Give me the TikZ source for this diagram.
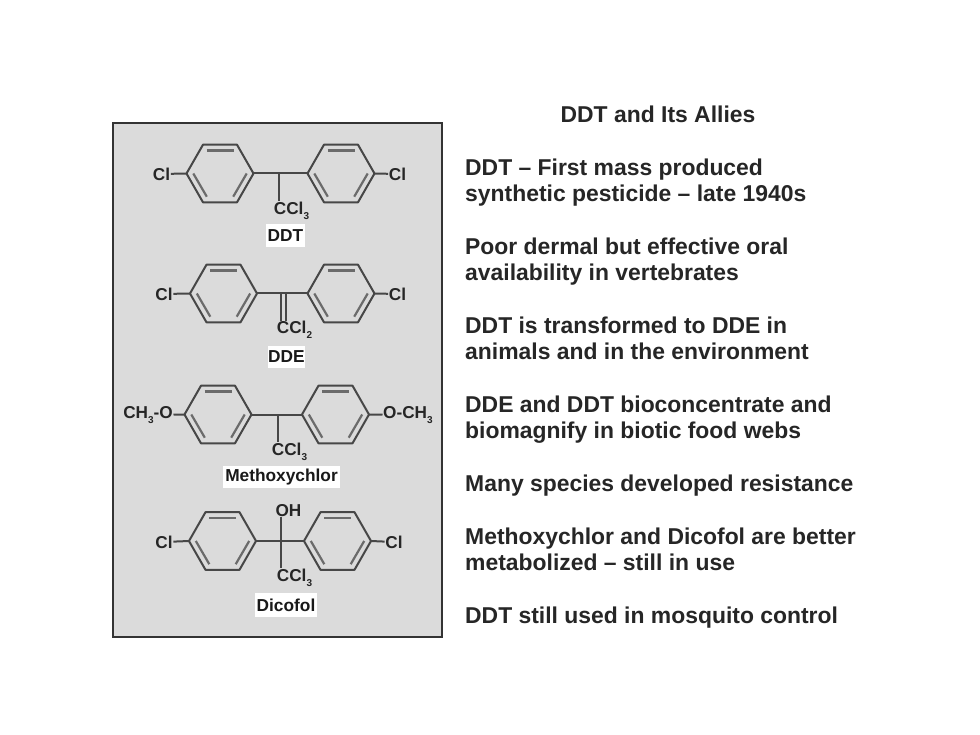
\documentclass[tikz,border=0pt]{standalone}
\usepackage{fontspec}
\setmainfont{Liberation Sans}
\newcommand{\subn}[1]{\raisebox{-0.28em}{\fontsize{10}{10}\selectfont #1}}
\tikzset{
  panel/.style={draw=black!80,line width=1.5pt,fill=black!14},
  bond/.style={draw=black!72,line width=2pt},
  innerbond/.style={draw=black!58,line width=2.2pt},
  atom/.style={inner sep=0.5pt,text=black!85,font=\bfseries\fontsize{17.2}{19}\selectfont},
  cname/.style={fill=white,inner sep=0pt,text=black!90,font=\bfseries\fontsize{17.3}{19}\selectfont},
  bodytext/.style={anchor=base west,inner sep=0pt,text=black!85,font=\bfseries\fontsize{22.9}{26}\selectfont},
  titletext/.style={anchor=base,inner sep=0pt,text=black!85,font=\bfseries\fontsize{22.9}{26}\selectfont}
}
% ring centred at (#2,#3), named #1
\newcommand{\ringat}[3]{%
  \begin{scope}[shift={(#2,#3)}]
    \coordinate (#1-e) at (33.5,0);
    \coordinate (#1-w) at (-33.5,0);
    \coordinate (#1-ne) at (17,-28.8);
    \coordinate (#1-nw) at (-17,-28.8);
    \coordinate (#1-se) at (17,28.8);
    \coordinate (#1-sw) at (-17,28.8);
    \draw[bond,line join=round] (#1-e) -- (#1-ne) -- (#1-nw) -- (#1-w) -- (#1-sw) -- (#1-se) -- cycle;
    \draw[innerbond] (-13.5,-23) -- (13.5,-23);
    \draw[innerbond] (26.7,0) -- (13.2,23.2);
    \draw[innerbond] (-26.7,0) -- (-13.2,23.2);
  \end{scope}}
\begin{document}
\begin{tikzpicture}[x=1pt,y=-1pt]
\useasboundingbox (0,0) rectangle (980,735);
\fill[white] (0,0) rectangle (980,735);
\draw[panel] (113,123) rectangle (442,637);

% DDT
\ringat{a1}{220}{173.5}
\ringat{a2}{341}{173.5}
\node[atom] (a1cl) at (161.5,174) {Cl};
\node[atom] (a2cl) at (397.5,174) {Cl};
\node[atom,anchor=base] (a3) at (291.5,214.5) {CCl\subn{3}};
\coordinate (a0) at (279,173.5);
\draw[bond] (a1cl) -- (a1-w);
\draw[bond] (a2-e) -- (a2cl);
\draw[bond] (a1-e) -- (a2-w);
\draw[bond] (a0) -- (a0 |- a3.north);
\node[cname,minimum width=39pt,minimum height=23pt] (a4) at (285.5,235.5) {DDT};

% DDE
\ringat{b1}{223.5}{293.5}
\ringat{b2}{341}{293.5}
\node[atom] (b1cl) at (164,294) {Cl};
\node[atom] (b2cl) at (397.5,294) {Cl};
\node[atom,anchor=base] (b3) at (294.5,334) {CCl\subn{2}};
\coordinate (b0a) at (280.5,293.5);
\coordinate (b0b) at (285.7,293.5);
\draw[bond] (b1cl) -- (b1-w);
\draw[bond] (b2-e) -- (b2cl);
\draw[bond] (b1-e) -- (b2-w);
\draw[bond] (b0a) -- (b0a |- b3.north);
\draw[bond] (b0b) -- (b0b |- b3.north);
\node[cname,minimum width=37pt,minimum height=22pt] (b4) at (286.5,357) {DDE};

% Methoxychlor
\ringat{c1}{218}{414.5}
\ringat{c2}{335.5}{414.5}
\node[atom,anchor=east] (c1o) at (173.5,415) {CH\subn{3}-O};
\node[atom,anchor=west] (c2o) at (382.5,415) {O-CH\subn{3}};
\node[atom,anchor=base] (c3) at (289.5,455.5) {CCl\subn{3}};
\coordinate (c0) at (277.7,414.5);
\draw[bond] (c1o) -- (c1-w);
\draw[bond] (c2-e) -- (c2o);
\draw[bond] (c1-e) -- (c2-w);
\draw[bond] (c0) -- (c0 |- c3.north);
\node[cname,minimum width=117pt,minimum height=22pt] (c4) at (281.5,477) {Methoxychlor};

% Dicofol
\ringat{d1}{222.5}{541}
\ringat{d2}{337.5}{541}
\node[atom] (d1cl) at (164,542) {Cl};
\node[atom] (d2cl) at (394,542) {Cl};
\node[atom,anchor=base] (d3) at (294.5,581.5) {CCl\subn{3}};
\node[atom,anchor=base] (d5) at (288.5,516) {OH};
\coordinate (d0) at (280.7,541);
\draw[bond] (d1cl) -- (d1-w);
\draw[bond] (d2-e) -- (d2cl);
\draw[bond] (d1-e) -- (d2-w);
\draw[bond] (d0 |- d5.south) -- (d0 |- d3.north);
\node[cname,minimum width=62pt,minimum height=24pt] (d4) at (286,605) {Dicofol};

% Text
\node[titletext] (t0) at (658,122.5) {DDT and Its Allies};
\node[bodytext] (t1) at (465,175.5) {DDT – First mass produced};
\node[bodytext] (t2) at (465,201.5) {synthetic pesticide – late 1940s};
\node[bodytext] (t3) at (465,254.5) {Poor dermal but effective oral};
\node[bodytext] (t4) at (465,280.5) {availability in vertebrates};
\node[bodytext] (t5) at (465,333.5) {DDT is transformed to DDE in};
\node[bodytext] (t6) at (465,359.5) {animals and in the environment};
\node[bodytext] (t7) at (465,412.5) {DDE and DDT bioconcentrate and};
\node[bodytext] (t8) at (465,438.5) {biomagnify in biotic food webs};
\node[bodytext] (t9) at (465,491.5) {Many species developed resistance};
\node[bodytext] (t10) at (465,544.5) {Methoxychlor and Dicofol are better};
\node[bodytext] (t11) at (465,570.5) {metabolized – still in use};
\node[bodytext] (t12) at (465,623.5) {DDT still used in mosquito control};
\end{tikzpicture}
\end{document}
